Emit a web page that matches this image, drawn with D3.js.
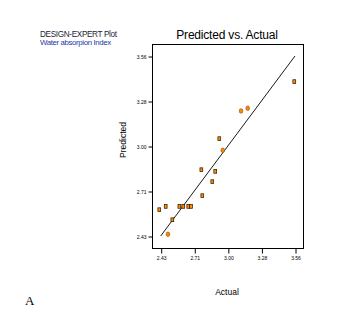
<!DOCTYPE html>
<html>
<head>
<meta charset="utf-8">
<script src="https://cdn.jsdelivr.net/npm/d3@7"></script>
<style>
  html, body { margin: 0; padding: 0; background: #fff; }
  svg { display: block; font-family: Arial, "Liberation Sans", sans-serif; }
</style>
</head>
<body>
<svg id="chart" width="344" height="332"></svg>
<script>
// Water absorption index: actual vs. model-predicted values
const actual    = [2.418, 2.472, 2.528, 2.491, 2.587, 2.620, 2.662, 2.685, 2.772, 2.780, 2.864, 2.889, 2.923, 2.952, 3.106, 3.162, 3.554];
const predicted = [2.595, 2.616, 2.532, 2.441, 2.616, 2.616, 2.616, 2.616, 2.846, 2.683, 2.771, 2.836, 3.041, 2.968, 3.215, 3.232, 3.399];
// runs marked with a round symbol
const roundMark = [0, 0, 0, 1, 0, 0, 0, 0, 0, 0, 0, 0, 0, 1, 1, 1, 0];

const tickValues = [2.43, 2.7125, 2.995, 3.2775, 3.56];
const tickLabels = ["2.43", "2.71", "3.00", "3.28", "3.56"];

const svg = d3.select("#chart");

const box = { left: 152, right: 303, top: 44, bottom: 248 };

const x = d3.scaleLinear().domain([2.43, 3.56]).range([160.7, 295]);
const y = d3.scaleLinear().domain([2.43, 3.56]).range([236, 56]);

// header text
svg.append("text").attr("x", 40).attr("y", 36.5)
  .attr("font-size", 8.2).attr("fill", "#23233a").attr("letter-spacing", -0.35)
  .text("DESIGN-EXPERT Plot");
svg.append("text").attr("x", 40).attr("y", 44.5)
  .attr("font-size", 7.8).attr("fill", "#2438a8").attr("letter-spacing", -0.35)
  .text("Water absorpion Index");

svg.append("text").attr("x", 227).attr("y", 38.5)
  .attr("text-anchor", "middle").attr("font-size", 12).attr("fill", "#000")
  .attr("letter-spacing", -0.2)
  .text("Predicted vs. Actual");

// plot frame
svg.append("rect")
  .attr("x", box.left + 0.5).attr("y", box.top + 0.5)
  .attr("width", box.right - box.left).attr("height", box.bottom - box.top)
  .attr("fill", "none").attr("stroke", "#000").attr("stroke-width", 1);

// axes
const fmt = (d) => tickLabels[tickValues.indexOf(d)];
const xAxis = d3.axisBottom(x).tickValues(tickValues).tickFormat(fmt).tickSize(5).tickPadding(3);
const yAxis = d3.axisLeft(y).tickValues(tickValues).tickFormat(fmt).tickSize(4).tickPadding(2);

const gx = svg.append("g").attr("transform", `translate(0.5,${box.bottom + 0.5})`).call(xAxis);
const gy = svg.append("g").attr("transform", `translate(${box.left + 0.5},0.5)`).call(yAxis);
[gx, gy].forEach(g => {
  g.select(".domain").remove();
  g.selectAll("line").attr("stroke", "#000");
  g.selectAll("text").attr("font-size", 5).attr("fill", "#000")
    .attr("font-family", "Arial, 'Liberation Sans', sans-serif");
});

// axis titles
svg.append("text").attr("x", 227).attr("y", 295)
  .attr("text-anchor", "middle").attr("font-size", 8.5).attr("fill", "#000")
  .text("Actual");
svg.append("text")
  .attr("transform", "translate(126,140) rotate(-90)")
  .attr("text-anchor", "middle").attr("font-size", 8.5).attr("fill", "#000")
  .text("Predicted");

// panel letter
svg.append("text").attr("x", 25).attr("y", 305)
  .attr("font-size", 13).attr("font-family", "'Liberation Serif', 'Times New Roman', serif")
  .attr("fill", "#000").text("A");

// ideal fit line
svg.append("line")
  .attr("x1", x(2.43)).attr("y1", y(2.43))
  .attr("x2", x(3.56)).attr("y2", y(3.56))
  .attr("stroke", "#000").attr("stroke-width", 0.9);

// observations
const pts = actual.map((a, i) => ({ a, p: predicted[i], round: roundMark[i] }));
const g = svg.append("g");
g.selectAll("rect.sq").data(pts.filter(d => !d.round)).join("rect")
  .attr("class", "sq")
  .attr("x", d => x(d.a) - 1.4).attr("y", d => y(d.p) - 1.9)
  .attr("width", 2.8).attr("height", 3.8)
  .attr("fill", "#ff8c00").attr("stroke", "#2a1500").attr("stroke-width", 0.7);
g.selectAll("ellipse.rd").data(pts.filter(d => d.round)).join("ellipse")
  .attr("class", "rd")
  .attr("cx", d => x(d.a)).attr("cy", d => y(d.p))
  .attr("rx", 1.8).attr("ry", 2.3)
  .attr("fill", "#ff8c00").attr("stroke", "#8a4a00").attr("stroke-width", 0.6);
</script>
</body>
</html>
